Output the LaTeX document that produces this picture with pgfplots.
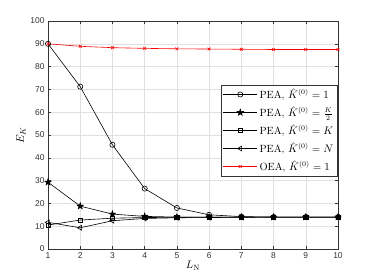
\documentclass[border=0pt]{standalone}
\usepackage{fontspec}
\usepackage{pgfplots}
\pgfplotsset{compat=1.18}
\newfontfamily\tickfont{Liberation Sans}
\definecolor{mgrid}{rgb}{0.88,0.88,0.88}
\definecolor{mtick}{rgb}{0.2,0.2,0.2}
\pgfdeclareplotmark{fstar}{%
  \pgfpathmoveto{\pgfqpointpolar{90}{\pgfplotmarksize}}%
  \pgfpathlineto{\pgfqpointpolar{126}{0.4\pgfplotmarksize}}%
  \pgfpathlineto{\pgfqpointpolar{162}{\pgfplotmarksize}}%
  \pgfpathlineto{\pgfqpointpolar{198}{0.4\pgfplotmarksize}}%
  \pgfpathlineto{\pgfqpointpolar{234}{\pgfplotmarksize}}%
  \pgfpathlineto{\pgfqpointpolar{270}{0.4\pgfplotmarksize}}%
  \pgfpathlineto{\pgfqpointpolar{306}{\pgfplotmarksize}}%
  \pgfpathlineto{\pgfqpointpolar{342}{0.4\pgfplotmarksize}}%
  \pgfpathlineto{\pgfqpointpolar{18}{\pgfplotmarksize}}%
  \pgfpathlineto{\pgfqpointpolar{54}{0.4\pgfplotmarksize}}%
  \pgfpathclose
  \pgfusepathqfillstroke}
\begin{document}
\begin{tikzpicture}
\begin{axis}[
  name=ax,
  scale only axis,
  width=290bp, height=228bp,
  xmin=1, xmax=10, ymin=0, ymax=100,
  xtick={1,2,...,10}, ytick={0,10,...,100},
  grid=major,
  major grid style={mgrid, line width=0.5pt},
  axis line style={mtick, line width=0.5pt},
  tick style={mtick, line width=0.5pt},
  tick align=inside,
  major tick length=3bp,
  ticklabel style={font=\tickfont\fontsize{8.5}{9}\selectfont, text=mtick},
  /pgf/number format/assume math mode=true,
  xlabel={$L_{\mathrm{N}}$},
  ylabel={$E_K$},
  label style={font=\fontsize{11}{12}\selectfont},
  xlabel style={yshift=4bp},
  ylabel style={yshift=-2bp},
  legend style={at={(rel axis cs:0.997,0.72)}, anchor=north east,
    font=\fontsize{10.5}{11.5}\selectfont, draw=mtick, line width=0.5pt,
    inner sep=1.5pt, row sep=2.2pt},
  legend cell align=left,
  legend image code/.code={
    \draw[mark repeat=2,mark phase=2] plot coordinates {(0cm,0cm) (0.6cm,0cm) (1.2cm,0cm)};
  },
]
\addplot[black, line width=0.6pt, mark=o, mark size=2.6pt, mark options={solid}] coordinates {
(1,90) (2,71.2) (3,45.7) (4,26.5) (5,18) (6,15) (7,14.2) (8,14) (9,14) (10,14)};
\addlegendentry{PEA, $\hat{K}^{(0)}=1$}
\addplot[black, line width=0.6pt, mark=fstar, mark size=3.3pt, mark options={fill=black}] coordinates {
(1,29.3) (2,18.8) (3,15.3) (4,14.3) (5,14) (6,14) (7,14) (8,14) (9,14) (10,14)};
\addlegendentry{PEA, $\hat{K}^{(0)}=\frac{K}{2}$}
\addplot[black, line width=0.6pt, mark=square, mark size=2.2pt] coordinates {
(1,10.5) (2,12.7) (3,13.5) (4,13.8) (5,13.9) (6,14) (7,14) (8,14) (9,14) (10,14)};
\addlegendentry{PEA, $\hat{K}^{(0)}=K$}
\addplot[black, line width=0.6pt, mark=triangle, mark size=2.8pt, mark options={rotate=90}] coordinates {
(1,11.7) (2,9.3) (3,12.4) (4,13.4) (5,13.7) (6,13.8) (7,13.9) (8,14) (9,14) (10,14)};
\addlegendentry{PEA, $\hat{K}^{(0)}=N$}
\addplot[red, line width=0.6pt, mark=x, mark size=2pt] coordinates {
(1,90) (2,88.9) (3,88.3) (4,88.0) (5,87.8) (6,87.7) (7,87.6) (8,87.5) (9,87.5) (10,87.5)};
\addlegendentry{OEA, $\hat{K}^{(0)}=1$}
\end{axis}
\path ([xshift=-48bp,yshift=-31bp]ax.south west) rectangle ([xshift=36bp,yshift=21bp]ax.north east);
\end{tikzpicture}
\end{document}
